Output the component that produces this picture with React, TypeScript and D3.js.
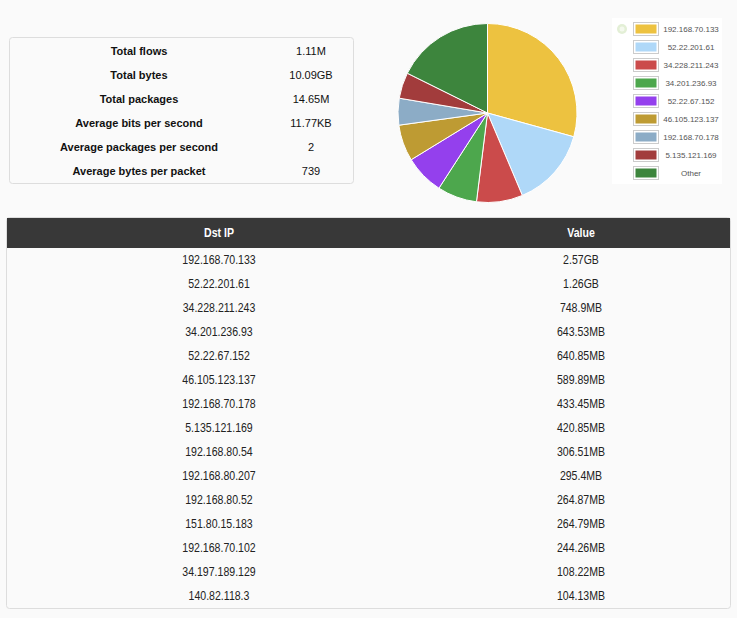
import React, { useEffect, useRef } from "react";
import * as d3 from "d3";

// summary block
const statLabels = [
  "Total flows",
  "Total bytes",
  "Total packages",
  "Average bits per second",
  "Average packages per second",
  "Average bytes per packet",
];
const statValues = ["1.11M", "10.09GB", "14.65M", "11.77KB", "2", "739"];

// pie slices, value in MB
const pieLabels = [
  "192.168.70.133",
  "52.22.201.61",
  "34.228.211.243",
  "34.201.236.93",
  "52.22.67.152",
  "46.105.123.137",
  "192.168.70.178",
  "5.135.121.169",
  "Other",
];
const pieValues = [2631.68, 1290.24, 748.9, 643.53, 640.85, 589.89, 433.45, 420.85, 1588.18];
const pieColors = [
  "#edc240",
  "#afd8f8",
  "#cb4b4b",
  "#4da74d",
  "#9440ed",
  "#be9b33",
  "#8cacc6",
  "#a23c3c",
  "#3d853d",
];

// table rows
const dstIps = [
  "192.168.70.133",
  "52.22.201.61",
  "34.228.211.243",
  "34.201.236.93",
  "52.22.67.152",
  "46.105.123.137",
  "192.168.70.178",
  "5.135.121.169",
  "192.168.80.54",
  "192.168.80.207",
  "192.168.80.52",
  "151.80.15.183",
  "192.168.70.102",
  "34.197.189.129",
  "140.82.118.3",
];
const dstValues = [
  "2.57GB",
  "1.26GB",
  "748.9MB",
  "643.53MB",
  "640.85MB",
  "589.89MB",
  "433.45MB",
  "420.85MB",
  "306.51MB",
  "295.4MB",
  "264.87MB",
  "264.79MB",
  "244.26MB",
  "108.22MB",
  "104.13MB",
];

const W = 737;
const H = 618;
const NARROW = 0.88; // fake a narrow face by squeezing Liberation Sans

export default function App() {
  const ref = useRef<SVGSVGElement>(null);

  useEffect(() => {
    document.body.style.margin = "0";
    document.body.style.background = "#fafafa";
    const svg = d3.select(ref.current);
    svg.selectAll("*").remove();
    const sans = "'Liberation Sans', Arial, sans-serif";

    svg.append("rect").attr("width", W).attr("height", H).attr("fill", "#fafafa");

    // stats box
    const statY = d3.scalePoint<number>().domain(d3.range(statLabels.length)).range([51, 171]);
    svg
      .append("rect")
      .attr("x", 9.5)
      .attr("y", 37.5)
      .attr("width", 344)
      .attr("height", 146)
      .attr("rx", 3)
      .attr("fill", "#fafafa")
      .attr("stroke", "#dddddd");
    const stats = svg.append("g").attr("font-family", sans).attr("font-size", 11).attr("fill", "#111");
    stats
      .selectAll("text.lbl")
      .data(statLabels)
      .enter()
      .append("text")
      .attr("class", "lbl")
      .attr("x", 139)
      .attr("y", (_, i) => statY(i)!)
      .attr("dy", "0.35em")
      .attr("text-anchor", "middle")
      .attr("font-weight", "bold")
      .text((d) => d);
    stats
      .selectAll("text.val")
      .data(statValues)
      .enter()
      .append("text")
      .attr("class", "val")
      .attr("x", 311)
      .attr("y", (_, i) => statY(i)!)
      .attr("dy", "0.35em")
      .attr("text-anchor", "middle")
      .text((d) => d);

    // pie
    const pie = d3.pie<number>().sort(null).value((d) => d);
    const arc = d3.arc<d3.PieArcDatum<number>>().innerRadius(0).outerRadius(89.5);
    svg
      .append("g")
      .attr("transform", "translate(487.5,113)")
      .selectAll("path")
      .data(pie(pieValues))
      .enter()
      .append("path")
      .attr("d", arc)
      .attr("fill", (_, i) => pieColors[i])
      .attr("stroke", "#fff")
      .attr("stroke-width", 1);

    // legend
    const leg = svg.append("g");
    leg
      .append("rect")
      .attr("x", 612)
      .attr("y", 18)
      .attr("width", 110)
      .attr("height", 166)
      .attr("fill", "#ffffff");
    leg
      .append("circle")
      .attr("cx", 622)
      .attr("cy", 29)
      .attr("r", 5)
      .attr("fill", "#e3efd6");
    leg
      .append("circle")
      .attr("cx", 622)
      .attr("cy", 29)
      .attr("r", 2.5)
      .attr("fill", "#f4f9ee");
    const legY = d3.scalePoint<number>().domain(d3.range(pieLabels.length)).range([29, 173]);
    const items = leg
      .selectAll("g.item")
      .data(pieLabels)
      .enter()
      .append("g")
      .attr("class", "item")
      .attr("transform", (_, i) => `translate(0,${legY(i)})`);
    items
      .append("rect")
      .attr("x", 633.5)
      .attr("y", -6.5)
      .attr("width", 25)
      .attr("height", 13)
      .attr("fill", "#fff")
      .attr("stroke", "#cccccc");
    items
      .append("rect")
      .attr("x", 635.5)
      .attr("y", -4.5)
      .attr("width", 21)
      .attr("height", 9)
      .attr("fill", (_, i) => pieColors[i]);
    items
      .append("text")
      .attr("x", 691)
      .attr("dy", "0.35em")
      .attr("text-anchor", "middle")
      .attr("font-family", sans)
      .attr("font-size", 8)
      .attr("fill", "#545454")
      .text((d) => d);

    // table
    const rowY = d3.scaleLinear().domain([0, dstIps.length]).range([248, 608]);
    svg
      .append("rect")
      .attr("x", 6.5)
      .attr("y", 217.5)
      .attr("width", 724)
      .attr("height", 391)
      .attr("rx", 3)
      .attr("fill", "#fafafa")
      .attr("stroke", "#dddddd");
    svg
      .append("rect")
      .attr("x", 7)
      .attr("y", 218)
      .attr("width", 723)
      .attr("height", 30)
      .attr("fill", "#383838");
    const colX = [219, 581];
    const head = svg
      .append("g")
      .attr("transform", `scale(${NARROW},1)`)
      .attr("font-family", sans)
      .attr("font-size", 12)
      .attr("font-weight", "bold")
      .attr("fill", "#fff")
      .attr("text-anchor", "middle");
    head.append("text").attr("x", colX[0] / NARROW).attr("y", 233).attr("dy", "0.35em").text("Dst IP");
    head.append("text").attr("x", colX[1] / NARROW).attr("y", 233).attr("dy", "0.35em").text("Value");

    const body = svg
      .append("g")
      .attr("transform", `scale(${NARROW},1)`)
      .attr("font-family", sans)
      .attr("font-size", 12)
      .attr("fill", "#222")
      .attr("text-anchor", "middle");
    body
      .selectAll("text.ip")
      .data(dstIps)
      .enter()
      .append("text")
      .attr("class", "ip")
      .attr("x", colX[0] / NARROW)
      .attr("y", (_, i) => rowY(i + 0.5))
      .attr("dy", "0.35em")
      .text((d) => d);
    body
      .selectAll("text.v")
      .data(dstValues)
      .enter()
      .append("text")
      .attr("class", "v")
      .attr("x", colX[1] / NARROW)
      .attr("y", (_, i) => rowY(i + 0.5))
      .attr("dy", "0.35em")
      .text((d) => d);
  }, []);

  return <svg ref={ref} width={W} height={H} style={{ display: "block" }} />;
}
